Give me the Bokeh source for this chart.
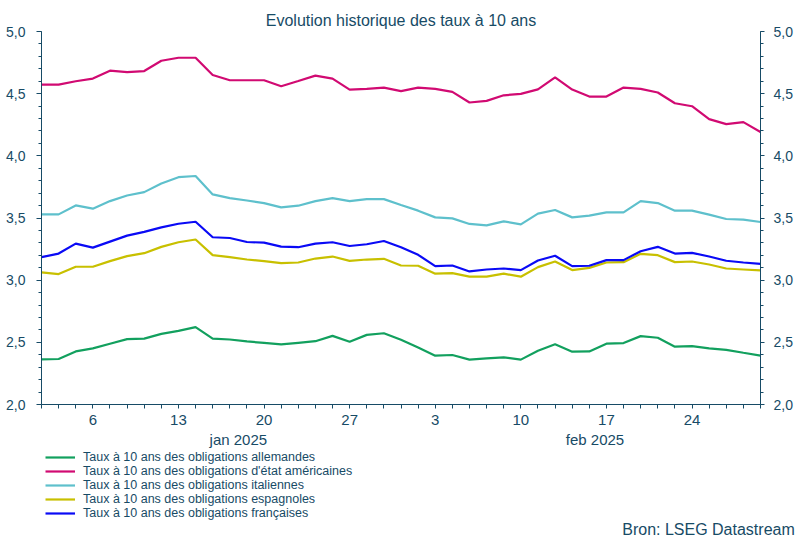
import numpy as np
import pandas as pd
from bokeh.plotting import figure
from bokeh.layouts import column
from bokeh.models import (Range1d, LinearAxis, FixedTicker, Legend, LegendItem)
from bokeh.embed import file_html
from bokeh.resources import INLINE

# business days shown on the chart
dates = pd.bdate_range("2025-01-01", "2025-02-28")

allemandes = [2.363, 2.366, 2.427, 2.451, 2.489, 2.526, 2.530, 2.568, 2.592, 2.622,
              2.530, 2.523, 2.507, 2.496, 2.483, 2.496, 2.509, 2.552, 2.504, 2.560,
              2.573, 2.520, 2.459, 2.393, 2.398, 2.361, 2.371, 2.379, 2.361, 2.433,
              2.484, 2.425, 2.427, 2.489, 2.494, 2.550, 2.537, 2.465, 2.470, 2.451,
              2.440, 2.416, 2.393]
americaines = [4.573, 4.573, 4.600, 4.621, 4.685, 4.674, 4.682, 4.765, 4.789, 4.789,
               4.650, 4.608, 4.608, 4.608, 4.560, 4.602, 4.645, 4.621, 4.533, 4.538,
               4.549, 4.520, 4.549, 4.538, 4.514, 4.429, 4.442, 4.487, 4.498, 4.535,
               4.631, 4.533, 4.477, 4.477, 4.549, 4.538, 4.509, 4.423, 4.399, 4.295,
               4.255, 4.271, 4.191]
italiennes = [3.529, 3.529, 3.601, 3.575, 3.636, 3.681, 3.708, 3.778, 3.828, 3.838,
              3.690, 3.660, 3.641, 3.620, 3.585, 3.599, 3.636, 3.660, 3.636, 3.652,
              3.652, 3.604, 3.559, 3.505, 3.497, 3.452, 3.441, 3.473, 3.449, 3.535,
              3.564, 3.505, 3.519, 3.545, 3.545, 3.636, 3.620, 3.559, 3.559, 3.527,
              3.492, 3.487, 3.468]
espagnoles = [3.062, 3.049, 3.108, 3.108, 3.153, 3.193, 3.217, 3.268, 3.305, 3.327,
              3.201, 3.185, 3.166, 3.153, 3.137, 3.142, 3.174, 3.190, 3.155, 3.166,
              3.172, 3.118, 3.116, 3.052, 3.057, 3.028, 3.028, 3.052, 3.028, 3.105,
              3.150, 3.081, 3.099, 3.142, 3.145, 3.212, 3.201, 3.145, 3.150, 3.126,
              3.094, 3.086, 3.078]
francaises = [3.185, 3.214, 3.294, 3.262, 3.310, 3.358, 3.388, 3.425, 3.454, 3.470,
              3.345, 3.339, 3.307, 3.302, 3.270, 3.265, 3.294, 3.305, 3.275, 3.289,
              3.315, 3.265, 3.204, 3.113, 3.118, 3.070, 3.086, 3.094, 3.081, 3.158,
              3.196, 3.113, 3.116, 3.161, 3.161, 3.233, 3.268, 3.214, 3.220, 3.190,
              3.156, 3.142, 3.131]

series_names = ["Taux à 10 ans des obligations allemandes",
                "Taux à 10 ans des obligations d'état américaines",
                "Taux à 10 ans des obligations italiennes",
                "Taux à 10 ans des obligations espagnoles",
                "Taux à 10 ans des obligations françaises"]
series_colors = ["#12a05e", "#d10a72", "#5ec0cc", "#c8c000", "#0a0af5"]

y_ticks = [2.0, 2.5, 3.0, 3.5, 4.0, 4.5, 5.0]
y_tick_labels = ["2,0", "2,5", "3,0", "3,5", "4,0", "4,5", "5,0"]
month_labels = {1: "jan 2025", 2: "feb 2025"}
title_text = "Evolution historique des taux à 10 ans"
source_text = "Bron: LSEG Datastream"

TXT = "#174b66"
FONT = "Liberation Sans"

x = list(range(len(dates)))
n = len(dates)
all_series = [allemandes, americaines, italiennes, espagnoles, francaises]

W, H_MAIN, H_FOOT = 800, 450, 90
LEFT, RIGHT = 41, 40

p = figure(width=W, height=H_MAIN, output_backend="svg", toolbar_location=None,
           x_range=Range1d(0, n - 1), y_range=Range1d(2.0, 5.0),
           min_border_left=LEFT, min_border_right=RIGHT, min_border_top=31,
           min_border_bottom=44)
p.outline_line_color = None
p.xgrid.visible = False
p.ygrid.visible = False
p.background_fill_color = "white"
p.border_fill_color = "white"

# title
p.title.text = title_text
p.title.align = "center"
p.title.text_font = FONT
p.title.text_font_size = "16px"
p.title.text_font_style = "normal"
p.title.text_color = TXT
p.title.standoff = 5

# x axis (business-day index, labels on Mondays, month names below)
mondays = [i for i, d in enumerate(dates) if d.weekday() == 0]
overrides = {i: str(dates[i].day) for i in mondays}
date_ns = dates.asi8.astype(float)
month_pos = []
for m, lab in month_labels.items():
    start = pd.Timestamp(2025, m, 1)
    end = start + pd.offsets.MonthBegin(1)
    mid = start + (end - start) / 2
    pos = float(np.interp(float(mid.value), date_ns, x))
    month_pos.append(pos)
    overrides[pos] = "\n" + lab
xa = p.xaxis[0]
xa.ticker = FixedTicker(ticks=mondays + month_pos, minor_ticks=x)
xa.major_label_overrides = overrides
xa.major_tick_line_color = None
xa.major_tick_out = 4
xa.major_tick_in = 0
xa.minor_tick_out = 4
xa.minor_tick_in = 0
xa.major_label_standoff = 2
xa.major_label_text_font_size = "15px"

# y axes
ya = p.yaxis[0]
ra = LinearAxis()
p.add_layout(ra, "right")
minor_y = [round(2.0 + 0.1 * k, 1) for k in range(31)]
for ax in (ya, ra):
    ax.ticker = FixedTicker(ticks=y_ticks, minor_ticks=minor_y)
    ax.major_label_overrides = dict(zip(y_ticks, y_tick_labels))
    ax.major_tick_out = 5
    ax.major_tick_in = 0
    ax.minor_tick_out = 3
    ax.minor_tick_in = 0
    ax.major_label_text_font_size = "14px"
    ax.major_tick_line_color = TXT
ya.major_label_standoff = 11
ra.major_label_standoff = 9
ra.major_tick_out = 4

for ax in (xa, ya, ra):
    ax.axis_line_color = TXT
    ax.minor_tick_line_color = TXT
    ax.major_label_text_color = TXT
    ax.major_label_text_font = FONT

for vals, c in zip(all_series, series_colors):
    p.line(x, vals, line_color=c, line_width=2.2)

# footer: legend + source (x measured in page pixels across the frame)
f = figure(width=W, height=H_FOOT, output_backend="svg", toolbar_location=None,
           x_range=Range1d(LEFT, W - RIGHT), y_range=Range1d(0, 1),
           y_axis_location=None,
           min_border_left=LEFT, min_border_right=RIGHT,
           min_border_top=0, min_border_bottom=20)
f.grid.visible = False
f.outline_line_color = None
f.background_fill_color = "white"
f.border_fill_color = "white"

# legend swatches: same series, outside the footer's visible ranges
swatches = [f.line(x, vals, line_color=c, line_width=2.2) for vals, c in zip(all_series, series_colors)]
legend = Legend(items=[LegendItem(label=nm, renderers=[r]) for nm, r in zip(series_names, swatches)],
                location=(4, 0), orientation="vertical",
                label_text_font=FONT, label_text_font_size="12.5px", label_text_color=TXT,
                glyph_width=30, glyph_height=12, label_height=12, label_standoff=8,
                spacing=0, padding=0, margin=0, border_line_color=None,
                background_fill_alpha=0)
f.add_layout(legend, "center")

# source line as the footer axis label
fa = f.xaxis[0]
src_center = 708
fa.ticker = FixedTicker(ticks=[src_center], minor_ticks=[])
fa.major_label_overrides = {src_center: source_text}
fa.axis_line_color = None
fa.major_tick_line_color = None
fa.minor_tick_line_color = None
fa.major_tick_out = 0
fa.major_tick_in = 0
fa.major_label_standoff = 0
fa.major_label_text_font = FONT
fa.major_label_text_font_size = "16px"
fa.major_label_text_color = TXT

open("out.html", "w").write(file_html(column(p, f, spacing=0), INLINE))
